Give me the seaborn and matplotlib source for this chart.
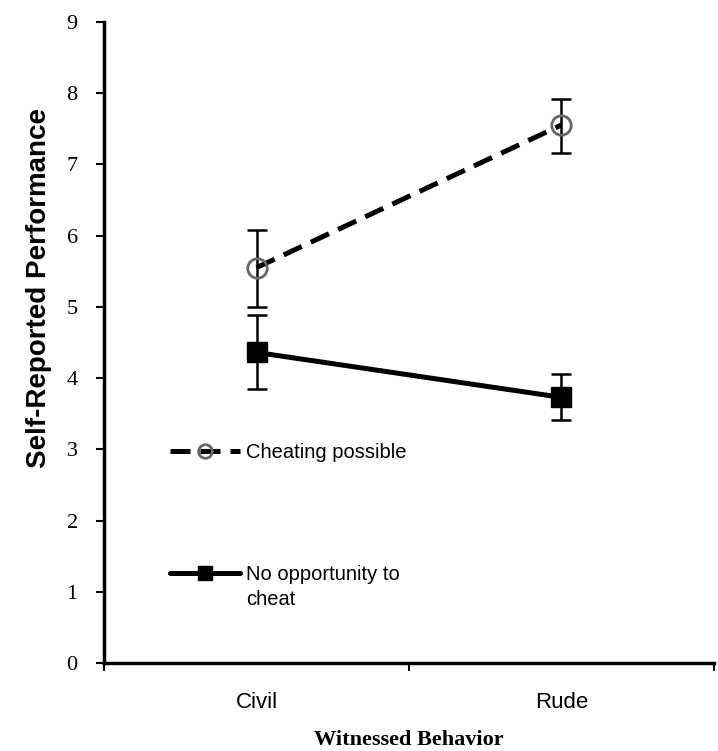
import numpy as np
import pandas as pd
import matplotlib
matplotlib.use("Agg")
import matplotlib.pyplot as plt
from matplotlib.lines import Line2D
import seaborn as sns

# ── data ────────────────────────────────────────────────────────────────────
behaviors  = ["Civil", "Rude"]
conditions = ["Cheating possible", "No opportunity to\ncheat"]
cheat_mean = [5.55, 7.55]
cheat_lo   = [5.00, 7.16]
cheat_hi   = [6.08, 7.92]
none_mean  = [4.36, 3.73]
none_lo    = [3.84, 3.41]
none_hi    = [4.88, 4.06]

sns.set_theme(style="white")
plt.rcParams["font.family"] = ["Liberation Sans", "DejaVu Sans"]
for key in ["text.color", "axes.labelcolor", "xtick.color", "ytick.color"]:
    plt.rcParams[key] = "black"

df = pd.DataFrame({
    "behavior":  behaviors * 2,
    "condition": [conditions[0]] * 2 + [conditions[1]] * 2,
    "mean":      cheat_mean + none_mean,
    "lo":        cheat_lo + none_lo,
    "hi":        cheat_hi + none_hi,
})

fig = plt.figure(figsize=(7.18, 7.51), dpi=100)
ax = fig.add_axes([0.145, 0.117, 0.849, 0.854])

styles = {
    conditions[0]: dict(ls=(0, (4, 2)), marker="o", mfc="none", mec="#666666",
                        mew=2.0, ms=14),
    conditions[1]: dict(ls="-", marker="s", mfc="black", mec="black",
                        mew=1, ms=14),
}

pos = {b: i for i, b in enumerate(behaviors)}
lines = {}
for cond in conditions:
    sub = df[df["condition"] == cond]
    x = sub["behavior"].map(pos).to_numpy()
    ax.errorbar(x, sub["mean"],
                yerr=[sub["mean"] - sub["lo"], sub["hi"] - sub["mean"]],
                fmt="none", ecolor="black", elinewidth=1.8, capsize=7,
                capthick=1.8, zorder=2)
    st = styles[cond]
    lines[cond], = ax.plot(x, sub["mean"], color="black", lw=3.6,
                           linestyle=st["ls"], marker=st["marker"],
                           markersize=st["ms"], markerfacecolor=st["mfc"],
                           markeredgecolor=st["mec"],
                           markeredgewidth=st["mew"], label=cond, zorder=3)

ax.set_xlim(-0.5, 1.5)
ax.set_ylim(0, 9)
ax.set_yticks(range(10))
ax.set_yticklabels([str(i) for i in range(10)], family="Liberation Serif",
                   fontsize=16)
ax.set_xticks([0, 1])
ax.set_xticklabels(behaviors, fontsize=16)
ax.set_xticks([-0.5, 0.5, 1.5], minor=True)
ax.tick_params(axis="x", which="major", length=0, pad=21)
ax.tick_params(axis="x", which="minor", length=6, width=1.5, direction="out",
               bottom=True)
ax.tick_params(axis="y", length=6, width=1.5, direction="out", left=True,
               pad=13)

for side in ["top", "right"]:
    ax.spines[side].set_visible(False)
for side in ["left", "bottom"]:
    ax.spines[side].set_linewidth(2.5)
    ax.spines[side].set_color("black")

ax.set_ylabel("Self-Reported Performance", fontsize=20, fontweight="bold")
ax.yaxis.set_label_coords(-0.086, 0.585)
ax.set_xlabel("Witnessed Behavior", fontsize=16, fontweight="bold",
              family="Liberation Serif", labelpad=12)

# legend: two blocks, the second with its label wrapped under the handle
leg_kw = dict(frameon=False, fontsize=14.5, handlelength=3.5,
              handletextpad=0.3, markerscale=0.7, borderpad=0,
              borderaxespad=0)
leg1 = ax.legend(handles=[lines[conditions[0]]], labels=["Cheating possible"],
                 loc="center left", bbox_to_anchor=(0.108, 0.329), **leg_kw)
ax.add_artist(leg1)
first, second = conditions[1].split("\n")
blank = Line2D([], [], color="none")
ax.legend(handles=[lines[conditions[1]], blank], labels=[first, second],
          loc="upper left", bbox_to_anchor=(0.108, 0.153), labelspacing=0.28,
          **leg_kw)

fig.savefig("out.png", dpi=100)
